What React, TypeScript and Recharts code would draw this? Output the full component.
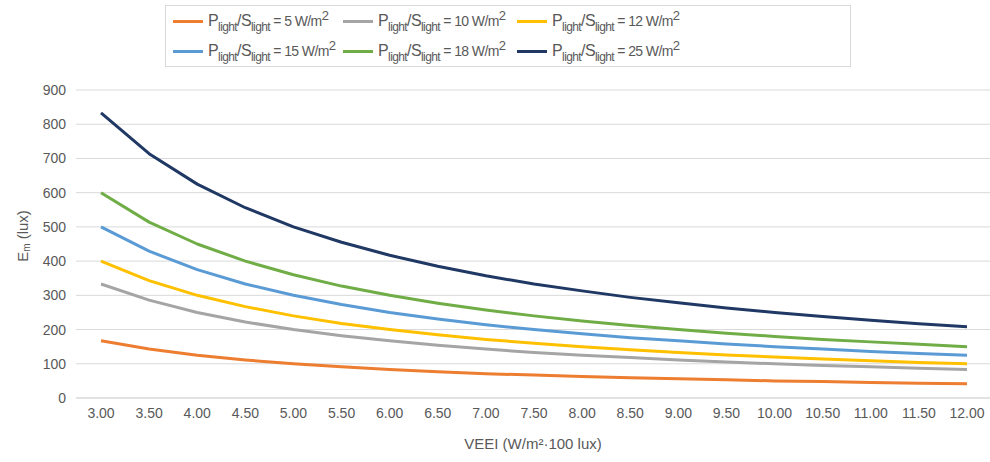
import { LineChart, Line, XAxis, YAxis, CartesianGrid, Legend, Label } from 'recharts';

const veei = ['3.00', '3.50', '4.00', '4.50', '5.00', '5.50', '6.00', '6.50', '7.00', '7.50', '8.00', '8.50', '9.00', '9.50', '10.00', '10.50', '11.00', '11.50', '12.00'];

const p5 = [167, 143, 125, 111, 100, 91, 83, 77, 71, 67, 63, 59, 56, 53, 50, 48, 45, 43, 42];
const p10 = [333, 286, 250, 222, 200, 182, 167, 154, 143, 133, 125, 118, 111, 105, 100, 95, 91, 87, 83];
const p12 = [400, 343, 300, 267, 240, 218, 200, 185, 171, 160, 150, 141, 133, 126, 120, 114, 109, 104, 100];
const p15 = [500, 429, 375, 333, 300, 273, 250, 231, 214, 200, 188, 176, 167, 158, 150, 143, 136, 130, 125];
const p18 = [600, 514, 450, 400, 360, 327, 300, 277, 257, 240, 225, 212, 200, 189, 180, 171, 164, 157, 150];
const p25 = [833, 714, 625, 556, 500, 455, 417, 385, 357, 333, 313, 294, 278, 263, 250, 238, 227, 217, 208];

const yTicks = [0, 100, 200, 300, 400, 500, 600, 700, 800, 900];

const series = [
  { key: 'p5', power: 5, color: '#ED7D31', values: p5 },
  { key: 'p10', power: 10, color: '#A5A5A5', values: p10 },
  { key: 'p12', power: 12, color: '#FFC000', values: p12 },
  { key: 'p15', power: 15, color: '#5B9BD5', values: p15 },
  { key: 'p18', power: 18, color: '#70AD47', values: p18 },
  { key: 'p25', power: 25, color: '#203864', values: p25 },
];

const data = veei.map((v, i) => {
  const row: Record<string, string | number> = { veei: v };
  series.forEach((s) => {
    row[s.key] = s.values[i];
  });
  return row;
});

const font = '"Liberation Sans", sans-serif';

function LegendBox() {
  return (
    <div
      style={{
        border: '1px solid #D9D9D9',
        width: 686,
        height: 62,
        boxSizing: 'border-box',
        display: 'grid',
        gridTemplateColumns: '170px 174px 170px',
        gridTemplateRows: '30px 30px',
        padding: '0 0 0 7px',
        fontFamily: font,
        fontSize: 16,
        color: '#595959',
        background: '#fff',
      }}
    >
      {series.map((s) => (
        <div key={s.key} style={{ display: 'flex', alignItems: 'center', whiteSpace: 'nowrap' }}>
          <span style={{ display: 'inline-block', flexShrink: 0, width: 30, height: 3, background: s.color, marginRight: 5 }} />
          <span style={{ letterSpacing: -0.6 }}>
            P<sub style={{ fontSize: 12 }}>light</sub>/S<sub style={{ fontSize: 12 }}>light</sub>
            <span style={{ fontSize: 14 }}> = {s.power} W/m</span>
            <sup style={{ fontSize: 13 }}>2</sup>
          </span>
        </div>
      ))}
    </div>
  );
}

function YTitle(props: any) {
  const vb = props.viewBox;
  const cy = vb.y + vb.height / 2 - 8;
  return (
    <text x={22} y={cy} transform={`rotate(-90 22 ${cy})`} textAnchor="middle" dominantBaseline="central" fill="#595959" fontFamily={font} fontSize={15}>
      E<tspan fontSize={10} dy={4}>m</tspan>
      <tspan dy={-4}> (lux)</tspan>
    </text>
  );
}

export default function App() {
  return (
    <div style={{ position: 'absolute', left: 0, top: 0, background: '#fff' }}>
      <LineChart width={990} height={462} data={data} margin={{ top: 28, right: 0, bottom: 0, left: 20 }}>
        <CartesianGrid vertical={false} stroke="#D9D9D9" />
        <XAxis
          dataKey="veei"
          height={64}
          interval={0}
          padding={{ left: 25, right: 23 }}
          tickLine={false}
          axisLine={{ stroke: '#D9D9D9' }}
          tick={{ fill: '#595959', fontSize: 14, fontFamily: font }}
          tickMargin={4}
        >
          <Label value="VEEI (W/m²·100 lux)" position="insideBottom" offset={13} fill="#595959" fontSize={15} fontFamily={font} />
        </XAxis>
        <YAxis
          width={56}
          domain={[0, 900]}
          ticks={yTicks}
          tickLine={false}
          axisLine={false}
          tick={{ fill: '#595959', fontSize: 14, fontFamily: font }}
          tickMargin={4}
        >
          <Label content={<YTitle />} />
        </YAxis>
        <Legend
          verticalAlign="top"
          content={() => <LegendBox />}
          wrapperStyle={{ position: 'absolute', top: 5, left: 165, width: 686, height: 62 }}
        />
        {series.map((s) => (
          <Line
            key={s.key}
            type="linear"
            dataKey={s.key}
            stroke={s.color}
            strokeWidth={3}
            strokeLinejoin="round"
            dot={false}
            isAnimationActive={false}
          />
        ))}
      </LineChart>
    </div>
  );
}
